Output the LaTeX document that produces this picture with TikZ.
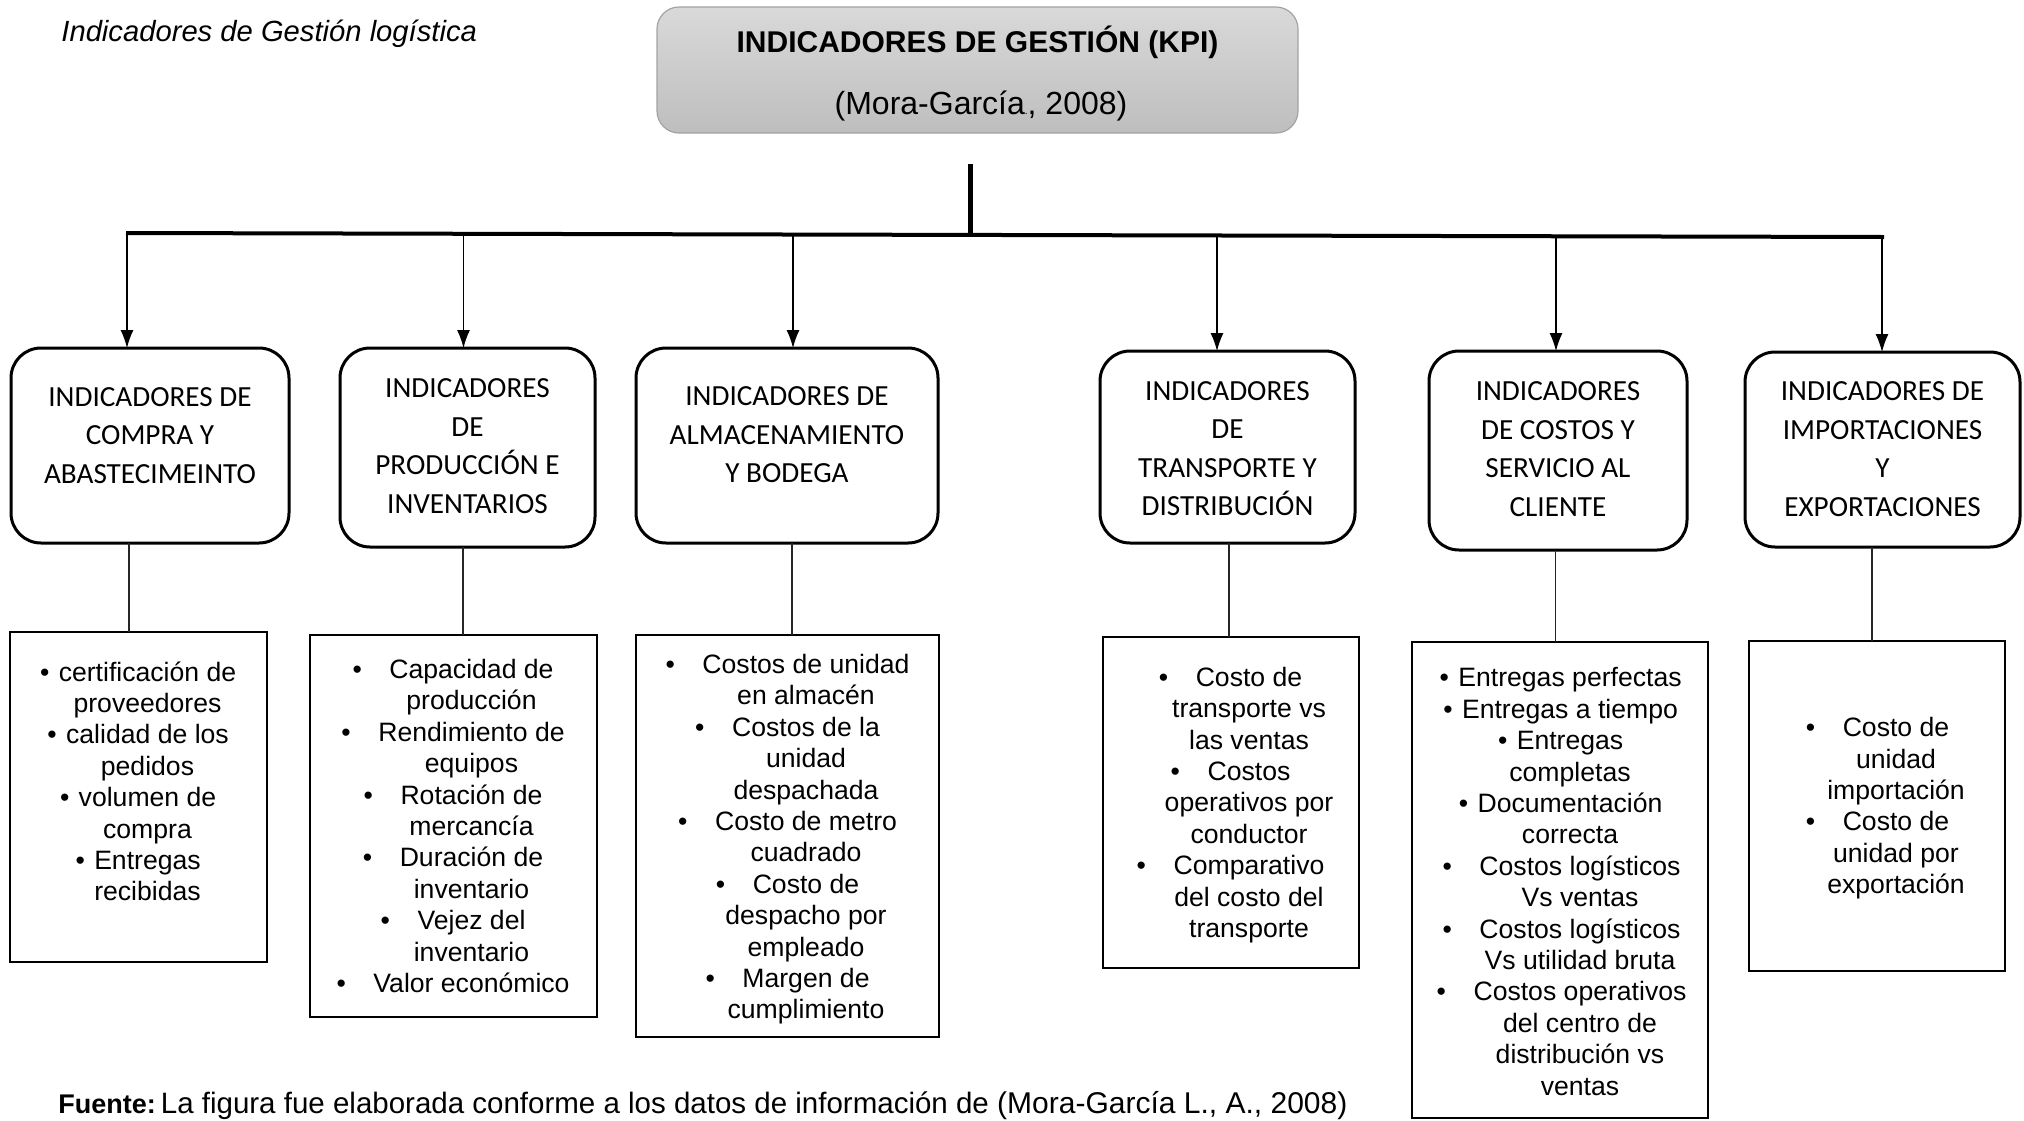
\documentclass[tikz,border=0pt]{standalone}
\usepackage{fontspec}
\setmainfont{Liberation Sans}
\newfontfamily\hdrfont{Carlito}
\usetikzlibrary{arrows.meta}
% hanging bullets: wide gap and narrow gap before the item text
\newcommand{\bw}{\strut\llap{\textbullet\hspace{13.8pt}}}
\newcommand{\bn}{\strut\llap{\textbullet\hspace{4.7pt}}}
\definecolor{kpitop}{HTML}{D9D9D9}
\definecolor{kpibot}{HTML}{BEBEBE}
\definecolor{kpiline}{HTML}{A3A3A3}
\tikzset{
  kpibox/.style={draw=kpiline, line width=0.6pt, rounded corners=11pt,
    top color=kpitop, bottom color=kpibot, inner sep=0pt, outer sep=0pt},
  hdrbox/.style={draw, line width=1.5pt, rounded corners=15pt, inner sep=0pt, outer sep=0pt},
  hdrtext/.style={font=\hdrfont\fontsize{14.6}{19.25}\selectfont, align=center, inner sep=0pt},
  listbox/.style={draw, line width=1.4pt, inner sep=0pt, outer sep=0pt},
  listtext/.style={font=\fontsize{13.3}{15.7}\selectfont, align=center, inner sep=0pt},
  stemline/.style={line width=2.5pt},
  barline/.style={line width=2pt},
  drop/.style={-{Latex[length=9pt,width=6.5pt]}, line width=0.6pt},
  link/.style={line width=0.6pt, black!85},
}
\begin{document}
\begin{tikzpicture}[x=0.5pt,y=-0.5pt]
\useasboundingbox (0,0) rectangle (2024,1120);
\fill[white] (0,0) rectangle (2024,1120);
\clip (0,0) rectangle (2024,1120);

% heading
\node[anchor=base west, inner sep=0pt, font=\itshape\fontsize{14.6}{17}\selectfont] (title) at (61,41)
  {Indicadores de Gestión logística};

% root box
\node[kpibox, minimum width=320.5pt, minimum height=63pt] (kpi) at (977.5,70) {};
\node[anchor=base, inner sep=0pt, font=\bfseries\fontsize{15}{18}\selectfont] (kpit) at (977.5,52)
  {INDICADORES DE GESTIÓN (KPI)};
\node[anchor=base, inner sep=0pt, font=\fontsize{16}{19}\selectfont] (kpis) at (981,114)
  {(Mora-García{\fontsize{5}{6}\selectfont.}, 2008)};

% category boxes
\node[hdrbox, minimum width=139pt,   minimum height=97.5pt] (h1) at (150,445.5) {};
\node[hdrbox, minimum width=127.5pt, minimum height=99.5pt] (h2) at (467.5,447.5) {};
\node[hdrbox, minimum width=151pt,   minimum height=97.5pt] (h3) at (787,445.5) {};
\node[hdrbox, minimum width=127.5pt, minimum height=96pt]   (h4) at (1227.5,447) {};
\node[hdrbox, minimum width=129pt,   minimum height=99.5pt] (h5) at (1558,450.5) {};
\node[hdrbox, minimum width=137.5pt, minimum height=97.5pt] (h6) at (1882.5,449.5) {};

\node[hdrtext] (h1t) at (150,437.2) {\strut INDICADORES DE\\\strut COMPRA Y\\\strut ABASTECIMEINTO};
\node[hdrtext] (h2t) at (467.5,447.7) {\strut INDICADORES\\\strut DE\\\strut PRODUCCIÓN E\\\strut INVENTARIOS};
\node[hdrtext] (h3t) at (787,436.7) {\strut INDICADORES DE\\\strut ALMACENAMIENTO\\\strut Y BODEGA};
\node[hdrtext] (h4t) at (1227.5,450.5) {\strut INDICADORES\\\strut DE\\\strut TRANSPORTE Y\\\strut DISTRIBUCIÓN};
\node[hdrtext] (h5t) at (1558,451) {\strut INDICADORES\\\strut DE COSTOS Y\\\strut SERVICIO AL\\\strut CLIENTE};
\node[hdrtext] (h6t) at (1882.5,451) {\strut INDICADORES DE\\\strut IMPORTACIONES\\\strut Y\\\strut EXPORTACIONES};

% indicator lists
\node[listbox, minimum width=128.5pt, minimum height=165pt] (l1) at (138.5,797) {};
\node[listbox, minimum width=143.5pt, minimum height=191pt] (l2) at (453.5,826) {};
\node[listbox, minimum width=151.5pt, minimum height=201pt] (l3) at (787.5,836) {};
\node[listbox, minimum width=128pt,   minimum height=165.5pt] (l4) at (1231,802.5) {};
\node[listbox, minimum width=148pt,   minimum height=238pt] (l5) at (1560,880) {};
\node[listbox, minimum width=128pt,   minimum height=165pt] (l6) at (1877,806) {};

\node[listtext] (l1t) at (147.5,784.7) {%
  \bn certificación de\\\strut proveedores\\
  \bn calidad de los\\\strut pedidos\\
  \bn volumen de\\\strut compra\\
  \bn Entregas\\\strut recibidas};
\node[listtext] (l2t) at (471.5,829.2) {%
  \bw Capacidad de\\\strut producción\\
  \bw Rendimiento de\\\strut equipos\\
  \bw Rotación de\\\strut mercancía\\
  \bw Duración de\\\strut inventario\\
  \bw Vejez del\\\strut inventario\\
  \bw Valor económico};
\node[listtext] (l3t) at (806,840) {%
  \bw Costos de unidad\\\strut en almacén\\
  \bw Costos de la\\\strut unidad\\\strut despachada\\
  \bw Costo de metro\\\strut cuadrado\\
  \bw Costo de\\\strut despacho por\\\strut empleado\\
  \bw Margen de\\\strut cumplimiento};
\node[listtext] (l4t) at (1249,805.7) {%
  \bw Costo de\\\strut transporte vs\\\strut las ventas\\
  \bw Costos\\\strut operativos por\\\strut conductor\\
  \bw Comparativo\\\strut del costo del\\\strut transporte};
\node[listtext] (l5t) at (1570,884.7) {%
  \bn Entregas perfectas\\
  \bn Entregas a tiempo\\
  \bn Entregas\\\strut completas\\
  \bn Documentación\\\strut correcta\\
  \hspace*{10pt}\bw Costos logísticos\\\hspace*{10pt}\strut Vs ventas\\
  \hspace*{10pt}\bw Costos logísticos\\\hspace*{10pt}\strut Vs utilidad bruta\\
  \hspace*{10pt}\bw Costos operativos\\\hspace*{10pt}\strut del centro de\\
  \hspace*{10pt}\strut distribución vs\\\hspace*{10pt}\strut ventas};
\node[listtext] (l6t) at (1896,809) {%
  \bw Costo de\\\strut unidad\\\strut importación\\
  \bw Costo de\\\strut unidad por\\\strut exportación};

% trunk and branches
\coordinate (stemtop) at (970,164);
\coordinate (stembot) at (970,235);
\coordinate (barL) at (126,233);
\coordinate (barR) at (1884,237);
\draw[stemline] (stemtop) -- (stembot);
\draw[barline] (barL) -- (barR);

\coordinate (d1) at (127,233.0);
\coordinate (d2) at (463.5,233.8);
\coordinate (d3) at (793,234.5);
\coordinate (d4) at (1217,235.5);
\coordinate (d5) at (1556,236.3);
\coordinate (d6) at (1882,237);
\foreach \i in {1,...,6}{\draw[drop] (d\i) -- (d\i |- h\i.north);}

% links from categories to their lists
\coordinate (k1) at (129,0);
\coordinate (k2) at (463,0);
\coordinate (k3) at (792,0);
\coordinate (k4) at (1229,0);
\coordinate (k5) at (1555.5,0);
\coordinate (k6) at (1872,0);
\foreach \i in {1,...,6}{\draw[link] (h\i.south -| k\i) -- (l\i.north -| k\i);}

% source note
\node[anchor=base west, inner sep=0pt, font=\fontsize{14.75}{17}\selectfont] (src) at (58,1113)
  {{\bfseries\fontsize{13.5}{16}\selectfont Fuente:}\hspace{2.5pt}La figura fue elaborada conforme a los datos de información de
   {\fontsize{15}{18}\selectfont(Mora-García L., A., 2008)}};
\end{tikzpicture}
\end{document}
